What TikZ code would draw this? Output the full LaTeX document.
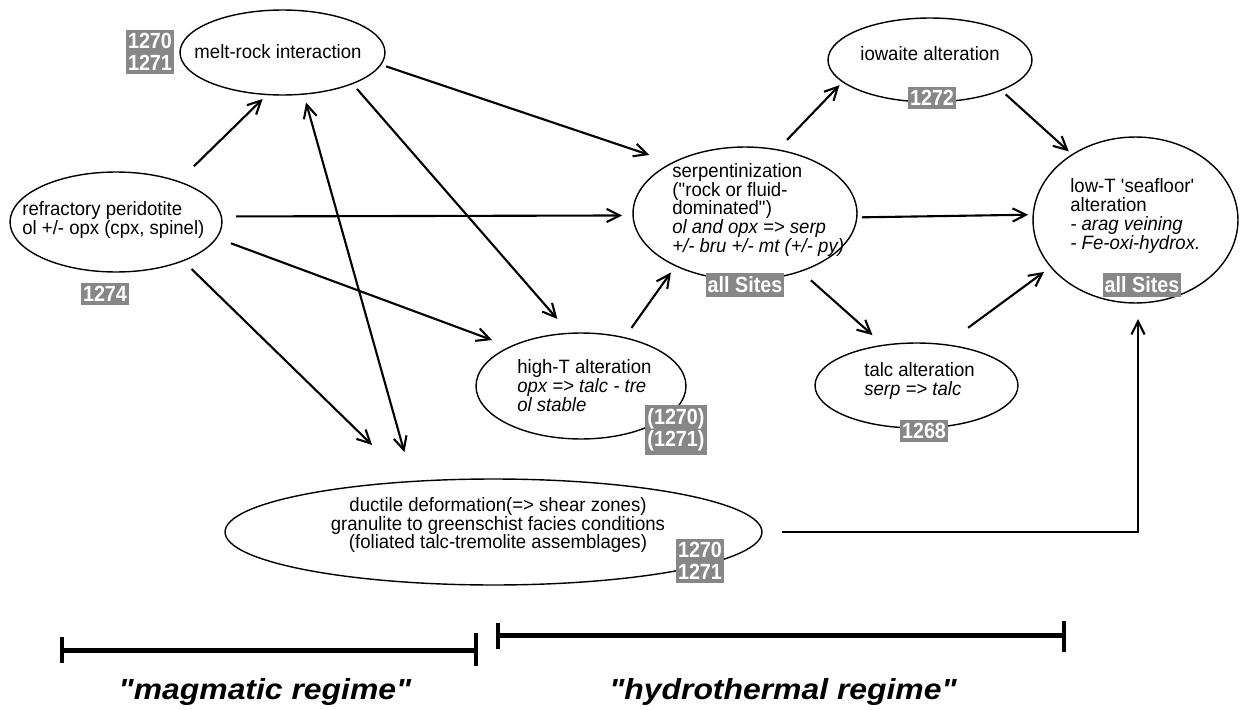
\documentclass[tikz,border=0pt]{standalone}
\usepackage{fontspec}
\setmainfont{Liberation Sans}[FakeStretch=0.96]
\newfontfamily\sitefont{Liberation Sans}[FakeStretch=0.9]
\newfontfamily\regimefont{Liberation Sans}[FakeStretch=1.1]
\usepackage{tikz}
\usetikzlibrary{shapes.geometric,arrows.meta,positioning}
\definecolor{sitegray}{RGB}{135,135,135}
\newcommand{\txtsize}{\fontsize{11}{10.8}\selectfont}
\newcommand{\sitesize}{\fontsize{12.5}{12.3}\selectfont}
\newcommand{\regimesize}{\fontsize{16.5}{18}\selectfont}
\tikzset
{
    procnode/.style = {ellipse, draw=black, line width=0.8pt, inner sep=0pt, outer sep=0pt},
    txtnode/.style = {align=left, inner sep=0pt, font=\txtsize},
    sitenode/.style = {fill=sitegray, text=white, align=center, inner xsep=1.2pt, inner ysep=2pt, font=\sitefont\bfseries\sitesize},
    regimenode/.style = {inner sep=0pt, font=\regimefont\bfseries\itshape\regimesize},
    arr/.style 2 args = {->, line width=1.2pt, shorten <=#1, shorten >=#2},
    regbar/.style = {line width=0.1cm},
    regtick/.style = {line width=0.09cm}
}

\begin{document}
\begin{tikzpicture}[>={Straight Barb[length=7.5pt,width=7.5pt]}, x=0.02cm, y=-0.02cm]
    \useasboundingbox (0,0) rectangle (1245,710);
    % ------------------------------------------------ process ellipses
    \node [procnode, minimum width=4.24cm, minimum height=2cm] (refr) at (116,222) {};
    \node [procnode, minimum width=4.1cm, minimum height=1.7cm] (melt) at (282.5,52.5) {};
    \node [procnode, minimum width=4.48cm, minimum height=2.66cm] (serp) at (745,213.5) {};
    \node [procnode, minimum width=4.08cm, minimum height=1.68cm] (iowa) at (930,60) {};
    \node [procnode, minimum width=4.1cm, minimum height=3.32cm] (lowT) at (1135.5,220) {};
    \node [procnode, minimum width=4.2cm, minimum height=2.12cm] (highT) at (581,386) {};
    \node [procnode, minimum width=4.06cm, minimum height=1.7cm] (talc) at (916.5,385.5) {};
    \node [procnode, minimum width=10.74cm, minimum height=2.12cm] (duct) at (493.5,532) {};
    % ------------------------------------------------ texts
    \node [txtnode, anchor=west] (refrtxt) at (22,220) {refractory peridotite\\ol +/- opx (cpx, spinel)};
    \node [txtnode] (melttxt) at (278,52) {melt-rock interaction};
    \node [txtnode, anchor=west] (serptxt) at (672,210) {serpentinization\\(\textquotedbl rock or fluid-\\dominated\textquotedbl)\\\textit{ol and opx => serp}\\\textit{+/- bru +/- mt (+/- py)}};
    \node [txtnode] (iowatxt) at (930,54) {iowaite alteration};
    \node [txtnode, anchor=west] (lowTtxt) at (1070,216) {low-T \textquotesingle seafloor\textquotesingle\\alteration\\\textit{- arag veining}\\\textit{- Fe-oxi-hydrox.}};
    \node [txtnode, anchor=west] (highTtxt) at (517,386) {high-T alteration\\\textit{opx => talc - tre}\\\textit{ol stable}};
    \node [txtnode, anchor=west] (talctxt) at (864,381) {talc alteration\\\textit{serp => talc}};
    \node [txtnode, align=center] (ducttxt) at (498,525) {ductile deformation(=> shear zones)\\granulite to greenschist facies conditions\\(foliated talc-tremolite assemblages)};
    % ------------------------------------------------ site labels
    \node [sitenode] (meltsite) at (150,52) {1270\\1271};
    \node [sitenode] (refrsite) at (105,294) {1274};
    \node [sitenode] (serpsite) at (745,285) {all Sites};
    \node [sitenode] (iowasite) at (932,98) {1272};
    \node [sitenode] (lowTsite) at (1142,285) {all Sites};
    \node [sitenode] (highTsite) at (676,430) {(1270)\\(1271)};
    \node [sitenode] (talcsite) at (924,431) {1268};
    \node [sitenode] (ductsite) at (700,561) {1270\\1271};
    % ------------------------------------------------ arrows
    \draw [arr={0.438cm}{0.128cm}] (refr.33.75) -- (melt.250.5);
    \draw [arr={0.176cm}{0.61cm}, <->] (melt.297.9) -- (duct.148.3);
    \draw [arr={0.24cm}{1.05cm}] (refr.330.2) -- (duct.149.1);
    \draw [arr={0.142cm}{0.38cm}] (melt.336) -- (highT.102.3);
    \draw [arr={0.31cm}{0.39cm}] (refr.351.9) -- (highT.151.1);
    \draw [arr={0.296cm}{0.22cm}] (refr.3.26) -- (serp.181.3);
    \draw [arr={0.112cm}{0.49cm}] (melt.353.8) -- (serp.145.3);
    \draw [arr={0.24cm}{0.166cm}] (highT.48.5) -- (serp.217.8);
    \draw [arr={0.278cm}{0.094cm}] (serp.63.2) -- (iowa.194.8);
    \draw [arr={0.128cm}{0.096cm}] (iowa.337.8) -- (lowT.134.7);
    \draw [arr={0.1cm}{0.102cm}] (serp.358.7) -- (lowT.177.8);
    \draw [arr={0.272cm}{0.306cm}] (serp.314.8) -- (talc.129.6);
    \draw [arr={0.572cm}{0.17cm}] (talc.55.4) -- (lowT.209.9);
    \draw [arr={0.4cm}{0.32cm}] (duct.east) -| ([xshift=0.05cm]lowT.south);
    % ------------------------------------------------ regime bars
    \draw [regbar] (62,650) -- (476,650);
    \draw [regtick] (62,637) -- (62,663);
    \draw [regtick] (476,633) -- (476,666);
    \draw [regbar] (498,635) -- (1064,635);
    \draw [regtick] (498,623) -- (498,649);
    \draw [regtick] (1064,621) -- (1064,652);
    \node [regimenode] (magreg) at (265,692) {"magmatic regime"};
    \node [regimenode] (hydreg) at (783,692) {"hydrothermal regime"};
\end{tikzpicture}
\end{document}
